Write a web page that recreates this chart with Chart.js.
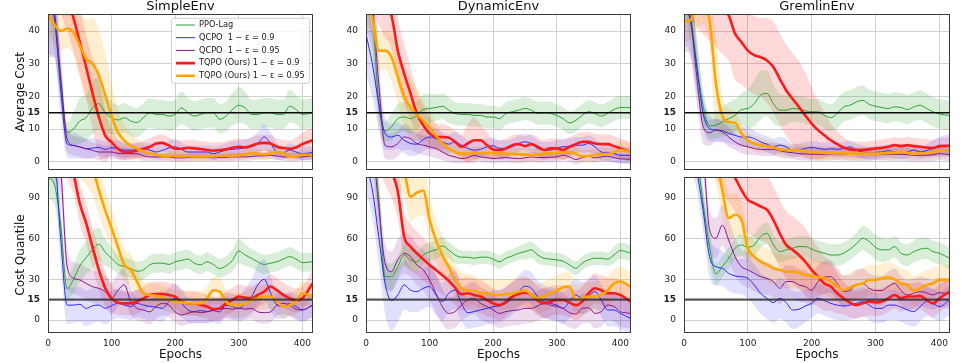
<!DOCTYPE html>
<html><head><meta charset="utf-8">
<script src="https://cdn.jsdelivr.net/npm/chart.js@4"></script>
<style>
html,body{margin:0;padding:0;background:#fff;width:969px;height:363px;overflow:hidden;position:relative}
canvas{position:absolute}
</style></head><body>
<script>
// ---------------- DATA ----------------
const EPOCHS = [0,10,20,30,40,50,60,70,80,90,100,110,120,130,140,150,160,170,180,190,200,210,220,230,240,250,260,270,280,290,300,310,320,330,340,350,360,370,380,390,400,416];
const ENVS = ['SimpleEnv','DynamicEnv','GremlinEnv'];
const ROW_LABELS = ['Average Cost','Cost Quantile'];
const SERIES = ['PPO-Lag','QCPO  1 − ε = 0.9','QCPO  1 − ε = 0.95','TQPO (Ours) 1 − ε = 0.9','TQPO (Ours) 1 − ε = 0.95'];
const COST_LIMIT = 15;
const AVG_TICKS = [0,10,15,20,30,40];
const QUANT_TICKS = [0,15,30,60,90];
const X_TICKS = [0,100,200,300,400];
const AVG_RANGE = [-2.5,45.2];
const QUANT_RANGE = [-9.6,105.6];
const X_RANGE = [0,416.7];

// SimpleEnv - Average Cost
const simpleAvgPPO = [60,44,25,9,10,12.5,13.5,16.5,17.8,15,13.5,12.8,13.5,12.5,12,13.5,15,14.5,14.5,14,14.5,16.5,15,14,14.5,15,15,13,14,16,17.3,16.5,14.5,14.5,15,15,14.5,14.5,17,16,14.5,15];
const simpleAvgPPOBand = [12,10,6,3,5,7,7,8,8,6,5,4.5,4.5,4.5,4.5,4.5,4.5,4.5,4.5,4.5,4.5,5,4.5,4.5,4.5,4.5,4.5,4.5,4.5,5,5.5,5,4.5,4.5,4.5,4.5,4.5,4.5,5,4.5,4.5,4.5];
const simpleAvgQ90 = [48,44,22,5.5,5,4.6,4,4.2,4.4,3.8,4.3,4,3.6,3.6,3.6,4,3.6,3,3.5,4.2,4.6,3.8,3,3,3,3,2.5,3,3.6,3.8,4,4.3,4.6,5.6,7.6,5.6,3,2.8,3.6,3,2.5,2.8];
const simpleAvgQ90Band = [15,12,8,4,4,3.5,3,3,2.5,2.5,2.5,2.5,2.5,2,2,2,2,2,2,2,2.5,2,2,2,2,2,2,2,2,2.5,2.5,2.5,3,3.5,4,3.5,2.5,2,2,2,2,2];
const simpleAvgQ95 = [50,46,26,7,5,4.5,4,3.5,3,3,3,2.6,2.5,2.5,2.5,1.8,1.5,1.5,1.5,1.5,1.2,1.2,1.3,1.5,1.5,1.5,1.5,1.3,1.3,1.5,1.5,1.5,1.6,1.8,1.8,2,1.8,1.5,1.5,1.5,1.5,1.8];
const simpleAvgQ95Band = [18,14,8,4,3,3,3,2.5,2.5,2,2,2,2,1.5,1.5,1.5,1.2,1.2,1.2,1.2,1.2,1.2,1.2,1.2,1.2,1.2,1.2,1.2,1.2,1.2,1.2,1.2,1.2,1.2,1.2,1.2,1.2,1.2,1.2,1.2,1.2,1.2];
const simpleAvgT90 = [62,58,55,50,44,36.6,29,21,13.7,8,6,4,3,3,3.5,4,4.6,5.6,5.8,5,4,4,4.3,4.1,3.9,3.6,3.4,3.6,3.8,4.3,4.6,4.4,4.9,5.6,5.8,5.6,4.6,4.2,4,4.4,5.4,6.6];
const simpleAvgT90Band = [10,10,10,10,10,10,10,11,12,8,4,3,2.5,2.5,2.5,2.5,2.5,2.5,2.5,2.5,2.5,2.5,2.5,2.5,2.5,2.5,2.5,2.5,2.5,2.5,2.5,2.5,2.5,2.5,2.5,2.5,2.5,2.5,2.5,3,3.5,4];
const simpleAvgT95 = [45,42,40,40.7,39.7,35.6,31.5,30,26.5,20.4,14,9,6.5,5,4,3.2,2.6,2.1,1.9,1.8,1.8,1.7,1.7,1.7,1.7,1.7,1.8,1.8,1.8,1.8,2,2.3,2.6,2.5,2.3,2.5,3,2.6,1.6,1.7,2.2,2];
const simpleAvgT95Band = [6,6,6,6,7,10,12,14,14,13,10,7,5,4,3,2,1.5,1.5,1.5,1.5,1.5,1.5,1.5,1.5,1.5,1.5,1.5,1.5,1.5,1.5,1.5,1.5,1.5,1.5,1.5,1.5,1.5,1.5,1.5,1.5,1.5,1.5];

// SimpleEnv - Cost Quantile
const simpleQntPPO = [105,100,70,23,30,40,46,52,56,50,45.6,41,39.4,38,36,37,40.7,42,42,41,43,44,45,42,40.7,43,41,38,40,44,51,48,45.6,43,41,42,43,45,46.8,45,42.4,43];
const simpleQntPPOBand = [15,15,12,8,10,12,12,14,12,10,8,7,7,7,7,7,7,7,7,7,7,7,7,7,7,7,7,7,7,8,9,8,7,7,7,7,7,7,7,7,7,7];
const simpleQntQ90 = [125,120,60,11,11,11.6,8.6,10.5,11,8.6,10.6,12.3,11,10,12.3,11,10,9.5,8.6,13.6,16,12.3,7.4,6.2,7,6.2,7,6,11,10,8.6,12,17,26,30,20,11,10,12.3,10,7.4,11];
const simpleQntQ90Band = [20,20,20,14,13,13,13,13,12,12,11,11,10,10,10,10,10,10,10,10,11,10,9,9,9,9,9,9,9,9,10,11,13,15,15,13,10,9,9,9,9,9];
const simpleQntQ95 = [130,125,110,40,31,29.6,27,24.6,23.4,21,16,22,26,13.6,8.6,7.4,6,10,12.3,11,6,3.7,5,6,5.5,6,7.4,8,8.6,8,8.6,8,8.6,6,5.4,6,11,12.3,11,8,7.4,11];
const simpleQntQ95Band = [20,20,20,14,12,12,12,12,12,12,12,12,12,10,9,9,9,9,9,9,8,8,8,8,8,8,8,8,8,8,8,8,8,8,8,8,8,8,8,8,8,9];
const simpleQntT90 = [140,135,130,120,108,86,71.5,54,37,23.4,16,12.8,12.3,12.3,13.6,16,18.5,19.2,19.2,18.5,17.3,13.6,12.3,12.3,11,10,8,8.6,12.3,14.8,17.3,16.5,16,18.5,21,24.7,22,18.5,16,14.3,16,27];
const simpleQntT90Band = [15,15,15,15,15,15,15,15,15,13,10,9,9,9,9,9,9,9,9,9,9,9,9,9,9,9,9,9,9,9,9,9,9,9,9,9,9,9,9,9,9,10];
const simpleQntT95 = [150,145,140,135,130,125,120,112,96,81,67.8,54,40.7,37,28.4,19.7,18.5,17.8,16.5,14.8,13.6,13,12.3,12.3,12.3,16,22,21,13.6,11,11,12,14.8,16,17.3,17.3,13.6,10,11,13.6,19.7,17.3];
const simpleQntT95Band = [20,20,20,20,20,20,20,20,18,16,15,14,12,12,10,9,9,9,9,9,9,9,9,9,9,9,10,10,9,9,9,9,9,9,9,9,9,9,9,9,9,9];

// DynamicEnv - Average Cost
const dynAvgPPO = [60,46,18,9.4,10.7,13.2,13.7,13.2,14.2,16,16.3,16.6,17,15.8,14.8,14.5,14.5,14.2,14.2,13.7,13.7,13.2,14.8,15.3,15.8,16.3,15.8,14.8,15,14.8,14.2,13.2,11.9,12.7,14.2,15.3,14.8,14,14.8,16,16.6,16.6];
const dynAvgPPOBand = [12,10,6,3,4,4.5,4.5,4.5,4.5,4.5,4.5,4,4,4,3.5,3.5,3.5,3.5,3.5,3.5,3.5,3.5,3.5,3.5,3.5,3.5,3.5,3.5,3.5,3.5,3.5,3.5,3.5,3.5,3.5,3.5,3.5,3.5,3.5,3.5,3.5,3.5];
const dynAvgQ90 = [39,30,17.8,8.7,7.6,8.1,6.6,5.6,5.4,6.8,7.6,7.1,6.1,5.4,6.1,5.1,4.1,3.6,3.8,4.6,4.9,4.1,4.1,4.6,5.6,6.1,5.6,4.1,3.6,3.6,4.1,4.6,4.6,5.1,5.1,5.6,4.6,3,2.7,2.5,2,2];
const dynAvgQ90Band = [12,10,8,5,4,4,4,4,3.5,3.5,3.5,3,3,3,3,3,2.5,2.5,2.5,2.5,2.5,2.5,2.5,2.5,2.5,2.5,2.5,2.5,2.5,2.5,2.5,2.5,2.5,2.5,2.5,2.5,2.5,2.5,2.5,2.5,2.5,2.5];
const dynAvgQ95 = [55,48,24,5,4.6,5.6,7.6,7.1,5.6,5.1,4.6,4.1,3,2,1.5,1,1.3,2,1.5,1.3,1,1.2,1.3,1.1,1,1.2,1.5,1.3,1.3,1.4,1.5,2,1.5,0.7,1.3,1.7,1.2,1.5,1.7,1.3,0.9,0.8];
const dynAvgQ95Band = [15,14,10,4,4,4,4,3.5,3,3,3,3,2.5,2,2,1.5,1.5,1.5,1.5,1.5,1.5,1.5,1.5,1.5,1.5,1.5,1.5,1.5,1.5,1.5,1.5,1.5,1.5,1.5,1.5,1.5,1.5,1.5,1.5,1.5,1.5,1.5];
const dynAvgT90 = [60,56,52,48,44.8,34,27,20.9,14.8,11.2,8.7,7.6,7.6,7.4,6.1,4.6,5.6,6.6,6.6,5.1,3.8,3.6,4.1,5.1,5.4,4.8,5.4,4.6,3.6,4.1,4.1,3.6,4.6,5.4,6.1,6.1,5.6,5.4,5.4,4.8,4.1,3];
const dynAvgT90Band = [10,10,10,10,10,10,9,8,7,6,5,4,4,3.5,3.5,3.5,6,7,5,4,3,3,3,3,3,3,3,3,3,3,3,3,3,3,3,3,3,3,3,3,3,3];
const dynAvgT95 = [48,44,34,34,32,26,20,16.5,14.5,12.5,10.5,8,5.6,4.1,3,2.5,2.5,2.7,2.7,2.7,2.7,2.6,2.5,2.4,2.3,2.2,2,2.2,2.5,2.6,2.7,2.9,3,2.5,1.7,1.8,2,2.4,2.3,3,3.6,3];
const dynAvgT95Band = [6,6,6,6,7,8,9,9,8,6,5,4,3,2.5,2,2,2,2,2,2,2,2,2,2,2,2,2,2,2,2,2,2,2,2,2,2,2,2,2,2,2.5,3];

// DynamicEnv - Cost Quantile
const dynQntPPO = [130,125,90,32,32,39.4,48,44.4,43,48,50.5,51.8,54.7,51.8,48,46.4,46.4,45.6,46.4,46.4,44.9,43,45.6,47.3,49.3,50.5,51.8,48,45.6,45,44.4,43.5,40.7,38.2,42,44.4,45.6,45.6,44.9,48,51.3,49.3];
const dynQntPPOBand = [15,15,15,10,10,8,8,8,7,7,7,7,7,6,6,5,5,5,5,5,5,5,5,5,5,6,6,6,5,5,5,5,5,5,5,5,5,5,5,6,6,6];
const dynQntQ90 = [115,96,61.6,27,14.3,18.5,25.9,22,21,23.4,24.7,18.5,13.6,19.7,22,12.3,5.4,6.2,7.4,8.6,9.9,10.4,12.3,16,21,25,23.4,17.3,13.6,12.3,11,8.6,13.6,18.5,16,17.8,21,14.8,7.4,7.4,4.9,1.2];
const dynQntQ90Band = [20,20,20,22,22,20,18,16,15,15,15,15,14,14,14,13,12,12,12,12,12,12,12,12,12,12,12,12,12,12,12,12,12,12,12,12,12,12,12,12,12,12];
const dynQntQ95 = [140,130,84,42,35.7,44.4,49.3,46.8,40.7,37,29.6,19.7,9.9,4.9,6.2,11,14.8,16,12.3,9.9,7.4,4.9,6.2,7,7.4,8.6,8.6,10.4,12.3,11,9.9,8.6,5.4,4.4,8.6,9,4.9,6.2,11,9.9,6.2,4.9];
const dynQntQ95Band = [20,20,20,15,15,15,15,15,15,15,15,14,13,12,12,12,12,12,12,12,11,11,11,11,11,11,11,11,11,11,11,11,11,11,11,11,11,11,11,11,11,11];
const dynQntT90 = [150,140,130,120,110,95,61.6,54.2,49.3,44.9,40.7,37,33,29,24,19,19.7,18.5,17.3,14.8,12.3,11,13.6,17.3,19.2,20.2,18.5,14.3,12.3,13.6,14.8,14.8,12.8,11,13.6,19.7,23.4,22,19.7,19.7,18.5,13.6];
const dynQntT90Band = [20,20,20,20,20,20,18,17,16,16,15,15,14,13,13,12,12,12,12,12,11,11,11,11,11,11,11,11,11,11,11,11,11,11,11,11,11,11,11,11,11,11];
const dynQntT95 = [160,155,150,140,130,120,110,91,94,95.6,74,59,48,39.4,29.6,23.4,22,22,19.7,19.7,18.5,18.5,19.2,19.2,21,21.7,18.5,16,17.3,19.7,21.7,24.2,24.7,14.8,16,17.3,17.3,18.5,22,27,28.4,24.7];
const dynQntT95Band = [20,20,20,20,20,20,20,18,18,18,17,15,14,13,12,12,12,11,11,11,11,11,11,11,11,11,11,11,11,11,11,11,11,11,11,11,11,11,11,11,11,11];

// GremlinEnv - Average Cost
const grmAvgPPO = [60,46,30,17,11,11.2,12.2,13.2,14.2,16,16.3,17.8,20.4,20.9,17.8,15.8,15.8,16.3,16.1,15.6,15.3,15.3,14.2,13.5,14.8,16.8,17.3,18.3,18.8,17.6,17,16.6,16.3,16.8,16.6,16,16.8,17.3,16.3,15.3,14.6,14.2];
const grmAvgPPOBand = [12,10,8,5,4,4,4.5,5,5,5,6,7,7.5,7,6,5,4.5,4,4,4,4,4,4,4,4.5,4.5,4.5,4.5,4.5,4.5,4.5,4.5,4.5,4.5,4.5,4.5,4.5,4.5,4.5,4.5,4.5,4.5];
const grmAvgQ90 = [48,43,29,14.8,10.2,9.7,9.5,8.7,8.1,7.6,7.6,7.1,6.1,5.4,4.6,5.1,4.6,3.4,3.6,4.1,4.4,4.1,3.8,4,3.8,4.1,4.6,3.6,3,2.7,2.9,3,3.4,3,2.8,3,3.6,3,3.4,4.1,4.6,5.1];
const grmAvgQ90Band = [12,10,8,5,4,3.5,3.5,3,3,3,3,2.5,2.5,2.5,2.5,2.5,2.5,2,2,2,2,2,2,2,2,2,2,2,2,2,2,2,2,2,2,2,2,2,2,2.5,3,3.5];
const grmAvgQ95 = [48,44,26,10.7,8.9,9.7,9.2,7.6,6.1,5.1,4.6,4.1,3.8,3.8,3.8,3.4,3,2.8,2.5,2.4,2.3,2.3,2.3,2.4,2.5,2.4,2.3,2.3,2.2,2.3,2.5,2.4,2.3,2.3,2.3,2.2,2,2,2,2.2,2.5,2.2];
const grmAvgQ95Band = [14,12,8,5,4,3.5,3,3,2.5,2.5,2.5,2,2,2,2,2,2,2,2,2,2,2,2,2,2,2,2,2,2,2,2,2,2,2,2,2,2,2,2,2,2,2];
const grmAvgT90 = [60,58,55,53,51,49,47,44.8,39.2,36.6,34,32.6,32,31,29,25.4,21.9,19.3,16.8,14.2,11.7,9.7,8.1,6.6,5.4,4.4,3.8,3.6,3.6,3.8,4.1,4.3,4.6,5.1,4.8,5.1,4.8,4.6,4.4,4.2,4.8,4.9];
const grmAvgT90Band = [14,14,14,14,14,14,14,14,14,13,12,12,12,13,14,14,14,14,14,13,11,9,7,5,4,3,2.5,2.5,2.5,2.5,2.5,2.5,2.5,2.5,2.5,2.5,2.5,2.5,2.5,2.5,2.5,2.5];
const grmAvgT95 = [43,43.3,47,48,43.3,24,14.2,12.2,11.9,8.7,6.6,5.6,5.1,4.8,4.4,3.8,3.6,3.5,3.5,3.2,3,2.9,2.7,2.7,2.7,2.6,2.5,2.5,2.5,2.5,2.5,2.6,2.7,2.8,3,2.8,2.5,2.6,2.7,3,3.3,3.3];
const grmAvgT95Band = [6,6,6,6,8,14,6,4,3.5,3,2.5,2.5,2.5,2,2,2,2,2,2,2,2,2,2,2,2,2,2,2,2,2,2,2,2,2,2,2,2,2,2,2,2,2];

// GremlinEnv - Cost Quantile
const grmQntPPO = [140,130,120,86,54,34,39.4,45.6,53,55.5,53.7,55.5,61.6,64,55.5,50.5,51.8,53,54.2,54.2,52.3,50.5,49.3,48,48,49.3,52.3,56.2,60.4,58,53.7,51.8,51.8,54.2,49.3,48,50.5,52.3,53,50.5,49.3,45.6];
const grmQntPPOBand = [15,15,15,12,10,8,8,8,8,8,8,8,8,8,8,8,8,8,8,8,8,8,8,8,8,8,8,8,9,9,9,9,8,8,8,8,8,8,8,8,8,8];
const grmQntQ90 = [140,130,110,81,46.8,39.4,38.2,34.5,32.5,32,30.8,25.9,19.7,16,12.8,16,12.8,7.4,7.9,10.4,12.3,16,14.3,12.3,11,10.4,11,12.3,13.6,11,8.6,8.6,11,11,9.5,7.4,6.2,9.9,13.6,12.3,9.9,14.8];
const grmQntQ90Band = [15,15,15,15,15,14,13,13,13,13,15,15,15,15,15,15,15,14,13,12,11,11,11,11,11,11,11,11,11,11,11,11,11,11,11,11,11,11,11,11,11,11];
const grmQntQ95 = [150,140,130,120,66.6,60.4,70,59,46.8,39.4,37,34.5,32,30.8,28.4,23.4,28.4,28.4,25.9,24.7,22,28.4,31.6,32,27,21,22,25.9,27,23.4,21.7,21.7,24.7,27,21.7,18.5,19.7,21,20,18.5,20.2,19.2];
const grmQntQ95Band = [15,15,15,15,15,15,15,15,14,13,13,13,13,12,12,12,12,12,12,12,12,12,12,12,12,12,11,11,11,11,11,11,11,11,11,11,11,11,11,11,11,11];
const grmQntT90 = [160,155,150,145,140,130,120,112,105,96,88.8,86.3,83.8,81.4,74,64,55.5,51.8,48,43,37,32,27,24.7,19.7,16,12.8,11,12.3,13.6,13,13.6,16,18.5,16,17.3,17.3,17.8,14.8,12.3,16,21];
const grmQntT90Band = [25,25,25,25,25,25,25,25,25,25,25,25,25,25,25,25,25,25,25,25,24,22,20,18,15,12,11,10,10,10,10,10,10,10,10,10,10,10,10,10,10,10];
const grmQntT95 = [170,160,150,140,130,120,96,75.2,77.7,74,53,46.8,43,40.7,38.2,37,35.7,35.7,35,33.3,32.5,31.6,30.8,28.4,25,22,24,25.9,27,29.6,29.6,30.8,31.6,30,27,25.9,21.7,23.4,25.9,27,29.6,29.6];
const grmQntT95Band = [20,20,20,20,20,20,20,18,16,14,13,12,12,12,12,12,12,12,12,12,12,12,12,12,12,11,11,11,11,11,11,11,11,11,11,11,11,11,11,11,11,11];

// ---------------- STYLE / LAYOUT ----------------
const FONT = "'DejaVu Sans', 'Liberation Sans', sans-serif";
const LINE_COLORS = ['#2ca02c','#2626ff','#8a148a','#ff1a1a','#ffa500'];
const BAND_COLORS = ['rgba(44,160,44,0.18)','rgba(40,40,255,0.14)','rgba(128,0,128,0.14)','rgba(255,0,0,0.15)','rgba(255,165,0,0.18)'];
const LINE_WIDTHS = [1,1,1,2.6,2.6];
const LAYOUT = {
  colLeft:[0,336,654], colWidth:[319,301,302], yAxisWidth:[48,30,30],
  rowTop:[0,163], rowHeight:[184,200], rowPadTop:[0,14], xAxisHeight:[14,30], padRight:6
};

const PANELS = [
  {row:0,col:0,series:[[simpleAvgPPO,simpleAvgPPOBand],[simpleAvgQ90,simpleAvgQ90Band],[simpleAvgQ95,simpleAvgQ95Band],[simpleAvgT90,simpleAvgT90Band],[simpleAvgT95,simpleAvgT95Band]]},
  {row:0,col:1,series:[[dynAvgPPO,dynAvgPPOBand],[dynAvgQ90,dynAvgQ90Band],[dynAvgQ95,dynAvgQ95Band],[dynAvgT90,dynAvgT90Band],[dynAvgT95,dynAvgT95Band]]},
  {row:0,col:2,series:[[grmAvgPPO,grmAvgPPOBand],[grmAvgQ90,grmAvgQ90Band],[grmAvgQ95,grmAvgQ95Band],[grmAvgT90,grmAvgT90Band],[grmAvgT95,grmAvgT95Band]]},
  {row:1,col:0,series:[[simpleQntPPO,simpleQntPPOBand],[simpleQntQ90,simpleQntQ90Band],[simpleQntQ95,simpleQntQ95Band],[simpleQntT90,simpleQntT90Band],[simpleQntT95,simpleQntT95Band]]},
  {row:1,col:1,series:[[dynQntPPO,dynQntPPOBand],[dynQntQ90,dynQntQ90Band],[dynQntQ95,dynQntQ95Band],[dynQntT90,dynQntT90Band],[dynQntT95,dynQntT95Band]]},
  {row:1,col:2,series:[[grmQntPPO,grmQntPPOBand],[grmQntQ90,grmQntQ90Band],[grmQntQ95,grmQntQ95Band],[grmQntT90,grmQntT90Band],[grmQntT95,grmQntT95Band]]}
];

Chart.defaults.font.family = FONT;
Chart.defaults.color = '#222';

const LEG_FONT = 8.2, LEG_PAD = 4.5;

const legendInside = {
  id:'legendInside',
  afterInit(chart){
    const lg = chart.legend; if(!lg) return;
    lg._layers = () => [{z:5, draw:(area)=>{
      if(!lg.options.display) return;
      const ctx = chart.ctx;
      const n = lg.legendItems ? lg.legendItems.length : 0;
      const x = lg.left, y = lg.top + 1.9, w = lg.width - 5;
      const h = LEG_PAD + (n-1)*(LEG_FONT+LEG_PAD) + LEG_FONT/2 + 7.5 - 1.9;
      ctx.save();
      ctx.fillStyle = 'rgba(255,255,255,0.85)'; ctx.strokeStyle = '#cfcfcf'; ctx.lineWidth = 1;
      ctx.beginPath();
      if (ctx.roundRect) ctx.roundRect(x, y, w, h, 2.5); else ctx.rect(x, y, w, h);
      ctx.fill(); ctx.stroke(); ctx.restore();
      lg.draw(area);
    }}];
  },
  afterLayout(chart){
    const lg = chart.legend; if(!lg || !lg.options.display) return;
    const a = chart.chartArea, w = lg.width;
    lg.left = a.right - 3.3 - w + 5; lg.right = lg.left + w;
    lg.top = a.top + 2.4; lg.bottom = lg.top + lg.height;
  }
};

function decorPlugin(row){
  return {
    id:'panelDecor',
    afterDatasetsDraw(chart){
      const {ctx, chartArea:a, scales:{y}} = chart;
      const yy = y.getPixelForValue(COST_LIMIT);
      ctx.save();
      ctx.strokeStyle = row === 0 ? 'rgba(0,0,0,0.95)' : 'rgba(40,40,40,0.75)';
      ctx.lineWidth = row === 0 ? 1.5 : 2.2;
      ctx.beginPath(); ctx.moveTo(a.left, yy); ctx.lineTo(a.right, yy); ctx.stroke();
      ctx.strokeStyle = '#3c3c3c'; ctx.lineWidth = 1;
      ctx.strokeRect(Math.round(a.left)+0.5, Math.round(a.top)+0.5, Math.round(a.right-a.left)-1, Math.round(a.bottom-a.top)-1);
      ctx.restore();
    }
  };
}

function pts(vals){ return EPOCHS.map((x,i)=>({x, y: vals[i]})); }

PANELS.forEach((p) => {
  const cv = document.createElement('canvas');
  const W = LAYOUT.colWidth[p.col], H = LAYOUT.rowHeight[p.row];
  cv.width = W; cv.height = H;
  cv.style.left = LAYOUT.colLeft[p.col] + 'px'; cv.style.top = LAYOUT.rowTop[p.row] + 'px';
  cv.style.width = W + 'px'; cv.style.height = H + 'px';
  document.body.appendChild(cv);

  const datasets = [];
  p.series.forEach(([mean, band], k) => {
    datasets.push({label:'', data: pts(mean.map((m,i)=>m+band[i])), borderWidth:0, borderColor:'transparent', pointRadius:0, fill:false, order:10, cubicInterpolationMode:'monotone'});
    datasets.push({label:'', data: pts(mean.map((m,i)=>m-band[i])), borderWidth:0, borderColor:'transparent', backgroundColor:BAND_COLORS[k], pointRadius:0, fill:'-1', order:10, cubicInterpolationMode:'monotone'});
  });
  p.series.forEach(([mean], k) => {
    datasets.push({label:SERIES[k], data: pts(mean), borderColor:LINE_COLORS[k], backgroundColor:LINE_COLORS[k], borderWidth:LINE_WIDTHS[k], pointRadius:0, fill:false, order:5-k, cubicInterpolationMode:'monotone', borderCapStyle:'round', borderJoinStyle:'round'});
  });

  const isAvg = p.row === 0;
  const yTicks = isAvg ? AVG_TICKS : QUANT_TICKS;
  const yRange = isAvg ? AVG_RANGE : QUANT_RANGE;
  const showLegend = (p.row === 0 && p.col === 0);

  new Chart(cv, {
    type:'line',
    data:{datasets},
    options:{
      responsive:false, animation:false, devicePixelRatio:1, events:[],
      layout:{padding:{left:0, right:LAYOUT.padRight, top:LAYOUT.rowPadTop[p.row], bottom:0}},
      plugins:{
        tooltip:{enabled:false},
        title:{display:isAvg, text:ENVS[p.col], fullSize:false, color:'#111', font:{size:13, weight:'normal', lineHeight:1, family:FONT}, padding:{top:0,bottom:1}},
        legend:{
          display:showLegend, position:'chartArea', align:'start',
          labels:{
            usePointStyle:true, pointStyle:'line', pointStyleWidth:19, boxHeight:LEG_FONT,
            padding:LEG_PAD, color:'#222', font:{size:LEG_FONT, family:FONT},
            filter:(it)=>it.text !== '', sort:(a,b)=>a.datasetIndex-b.datasetIndex
          }
        }
      },
      scales:{
        x:{
          type:'linear', min:X_RANGE[0], max:X_RANGE[1],
          afterBuildTicks:(s)=>{ s.ticks = X_TICKS.map(v=>({value:v})); },
          afterFit:(s)=>{ s.height = LAYOUT.xAxisHeight[p.row]; },
          grid:{color:'#d0d0d0', lineWidth:1, drawTicks:false},
          border:{display:false},
          ticks:{display:!isAvg, padding:5, color:'#222', font:{size:9, family:FONT}, maxRotation:0},
          title:{display:!isAvg, text:'Epochs', color:'#111', font:{size:12, family:FONT}, padding:{top:0,bottom:1}}
        },
        y:{
          type:'linear', min:yRange[0], max:yRange[1],
          afterBuildTicks:(s)=>{ s.ticks = yTicks.map(v=>({value:v})); },
          afterFit:(s)=>{ s.width = LAYOUT.yAxisWidth[p.col]; },
          grid:{color:'#d0d0d0', lineWidth:1, drawTicks:false},
          border:{display:false},
          ticks:{padding:8, color:'#222', font:(c)=>({size:9, family:FONT, weight:(c.tick && c.tick.value===COST_LIMIT)?'bold':'normal'})},
          title:{display:p.col===0, text:ROW_LABELS[p.row], color:'#111', font:{size:12, family:FONT}, padding:{top:14,bottom:0}}
        }
      }
    },
    plugins: showLegend ? [legendInside, decorPlugin(p.row)] : [decorPlugin(p.row)]
  });
});
</script>
</body></html>
